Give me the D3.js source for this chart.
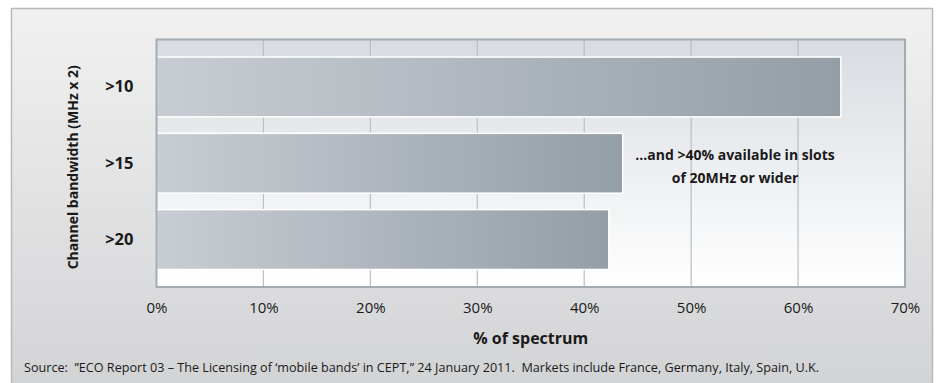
<!DOCTYPE html>
<html>
<head>
<meta charset="utf-8">
<script src="https://cdn.jsdelivr.net/npm/d3@7"></script>
<style>
  html, body { margin: 0; padding: 0; background: #fff; }
  svg { display: block; }
  text { font-family: "Open Sans", "DejaVu Sans", sans-serif; fill: #1a1a1a; }
</style>
</head>
<body>
<svg id="chart" width="940" height="383"></svg>
<script>
// Share of spectrum available by channel bandwidth
const categories = [">10", ">15", ">20"];
const values = [64, 43.6, 42.3];
const xTicks = [0, 10, 20, 30, 40, 50, 60, 70];
const xTitle = "% of spectrum";
const yTitle = "Channel bandwidth (MHz x 2)";
const noteLines = ["…and >40% available in slots", "of 20MHz or wider"];
const sourceText = "Source:  \u201DECO Report 03 \u2013 The Licensing of \u2018mobile bands\u2019 in CEPT,\u201D 24 January 2011.  Markets include France, Germany, Italy, Spain, U.K.";

const svg = d3.select("#chart");
const defs = svg.append("defs");

// panel background
const bg = defs.append("linearGradient").attr("id", "panelBg")
  .attr("x1", 0).attr("y1", 0).attr("x2", 0).attr("y2", 1);
bg.append("stop").attr("offset", 0).attr("stop-color", "#f1f1f1");
bg.append("stop").attr("offset", 1).attr("stop-color", "#d2d3d5");

// plot area background
const pb = defs.append("linearGradient").attr("id", "plotBg")
  .attr("x1", 0).attr("y1", 0).attr("x2", 0).attr("y2", 1);
pb.append("stop").attr("offset", 0).attr("stop-color", "#d8dce1");
pb.append("stop").attr("offset", 1).attr("stop-color", "#ffffff");

// bar fill
const bf = defs.append("linearGradient").attr("id", "barFill")
  .attr("x1", 0).attr("y1", 0).attr("x2", 1).attr("y2", 0);
bf.append("stop").attr("offset", 0).attr("stop-color", "#c8cdd3");
bf.append("stop").attr("offset", 1).attr("stop-color", "#949ea6");

svg.append("rect")
  .attr("x", 11.5).attr("y", 8.5).attr("width", 921).attr("height", 380)
  .attr("fill", "url(#panelBg)").attr("stroke", "#b3b9bf").attr("stroke-width", 1.5);

const plot = { left: 156.5, top: 39.5, right: 905, bottom: 287 };

const x = d3.scaleLinear().domain([0, 70]).range([plot.left, plot.right]);
const y = d3.scaleBand().domain(categories)
  .range([plot.top, plot.bottom]).paddingInner(0.216).paddingOuter(0.23);

svg.append("rect")
  .attr("x", plot.left).attr("y", plot.top)
  .attr("width", plot.right - plot.left).attr("height", plot.bottom - plot.top)
  .attr("fill", "url(#plotBg)");

// vertical gridlines
svg.append("g").selectAll("line")
  .data(xTicks.filter(d => d > 0 && d < 70))
  .join("line")
  .attr("x1", d => x(d)).attr("x2", d => x(d))
  .attr("y1", plot.top).attr("y2", plot.bottom)
  .attr("stroke", "#b9bfc5").attr("stroke-width", 1.2);

// bars
svg.append("g").selectAll("rect")
  .data(categories.map((c, i) => ({ c, v: values[i] })))
  .join("rect")
  .attr("x", x(0))
  .attr("y", d => y(d.c))
  .attr("width", d => x(d.v) - x(0))
  .attr("height", y.bandwidth())
  .attr("fill", "url(#barFill)")
  .attr("stroke", "#ffffff").attr("stroke-width", 1.5);

// plot frame
svg.append("rect")
  .attr("x", plot.left).attr("y", plot.top)
  .attr("width", plot.right - plot.left).attr("height", plot.bottom - plot.top)
  .attr("fill", "none").attr("stroke", "#a3abb2").attr("stroke-width", 2);

// x axis
const xAxis = d3.axisBottom(x).tickValues(xTicks).tickSize(0).tickPadding(0)
  .tickFormat(d => d + "%");
const gx = svg.append("g").attr("transform", `translate(0,${plot.bottom + 26})`).call(xAxis);
gx.select(".domain").remove();
gx.selectAll("text").attr("font-size", 15).attr("dy", 0)
  .style("font-family", "'Open Sans', sans-serif").attr("fill", "#1a1a1a");

// y axis
const yAxis = d3.axisLeft(y).tickSize(0).tickPadding(0);
const gy = svg.append("g").attr("transform", `translate(${plot.left - 23},0)`).call(yAxis);
gy.select(".domain").remove();
gy.selectAll("text").attr("font-size", 16.5).attr("font-weight", "bold")
  .style("font-family", "'Open Sans', sans-serif").attr("fill", "#1a1a1a");

// axis titles
svg.append("text")
  .attr("x", (plot.left + plot.right) / 2).attr("y", 344)
  .attr("text-anchor", "middle").attr("font-size", 16).attr("font-weight", "bold")
  .text(xTitle);

svg.append("text")
  .attr("transform", `translate(78,${(plot.top + plot.bottom) / 2 + 4}) rotate(-90)`)
  .attr("text-anchor", "middle").attr("font-size", 14).attr("font-weight", "bold")
  .text(yTitle);

// annotation
svg.append("text")
  .attr("x", 735).attr("y", 160)
  .attr("text-anchor", "middle").attr("font-size", 14).attr("font-weight", "bold")
  .selectAll("tspan").data(noteLines).join("tspan")
  .attr("x", 735).attr("dy", (d, i) => i === 0 ? 0 : 23)
  .text(d => d);

// source
svg.append("text")
  .attr("x", 24).attr("y", 372)
  .attr("font-size", 12.5)
  .style("white-space", "pre")
  .attr("textLength", 795).attr("lengthAdjust", "spacingAndGlyphs")
  .text(sourceText);
</script>
</body>
</html>
